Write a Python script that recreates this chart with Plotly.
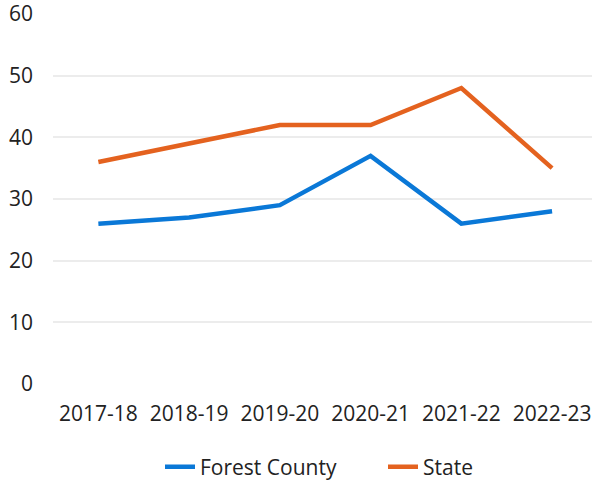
import plotly.graph_objects as go

years = ["2017-18", "2018-19", "2019-20", "2020-21", "2021-22", "2022-23"]
forest_county = [26, 27, 29, 37, 26, 28]
state = [36, 39, 42, 42, 48, 35]
y_ticks = [0, 10, 20, 30, 40, 50, 60]

fig = go.Figure()
fig.add_trace(go.Scatter(x=years, y=forest_county, name="Forest County", mode="lines",
                         line=dict(color="#0a78d7", width=4.5)))
fig.add_trace(go.Scatter(x=years, y=state, name="State", mode="lines",
                         line=dict(color="#e4621f", width=4.5)))

fig.update_layout(
    width=592, height=482,
    margin=dict(l=53, r=0, t=14, b=98),
    paper_bgcolor="white", plot_bgcolor="white",
    font=dict(family="Open Sans", size=21, color="#222222"),
    showlegend=True,
    legend=dict(orientation="h", x=160 / 592, xanchor="left", xref="container",
                y=15 / 482, yanchor="middle", yref="container",
                font=dict(size=21), entrywidth=178, tracegroupgap=0),
)
fig.update_xaxes(type="category", range=[-0.5, 5.44], showgrid=False, showline=False,
                 zeroline=False, ticks="", ticklabelstandoff=15, automargin=False)
fig.update_yaxes(range=[0, 60], tickvals=y_ticks, showgrid=True, gridcolor="#ececec",
                 gridwidth=1.5, zeroline=False, showline=False, ticks="",
                 ticklabelstandoff=19, automargin=False, ticklabeloverflow="allow")

fig.write_html("out.html", config={"displayModeBar": False},
               post_script="document.body.style.margin='0';")
